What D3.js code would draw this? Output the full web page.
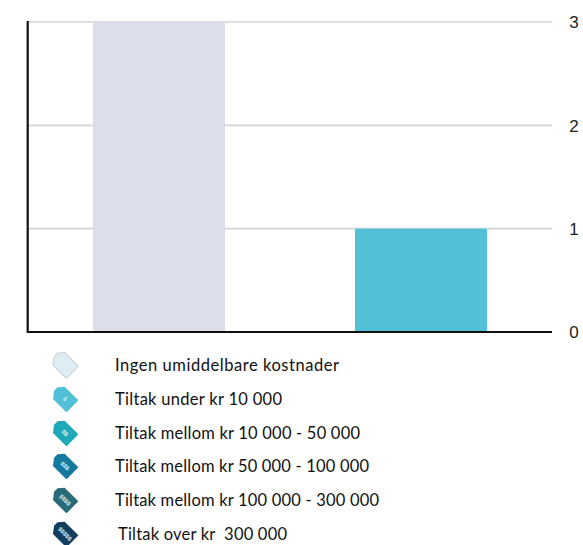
<!DOCTYPE html>
<html><head><meta charset="utf-8">
<script src="https://cdn.jsdelivr.net/npm/d3@7/dist/d3.min.js"></script>
<style>html,body{margin:0;padding:0;background:#fff}svg{display:block}</style>
</head><body><svg id="c" width="583" height="545"></svg>
<script>
const categories = ["Ingen umiddelbare kostnader", "Tiltak under kr 10 000"];
const values = [3, 1];
const barColors = ["#dcdeea", "#52c1d8"];
const yTicks = [0, 1, 2, 3];
const legendLabels = ["Ingen umiddelbare kostnader", "Tiltak under kr 10 000", "Tiltak mellom kr 10 000 - 50 000", "Tiltak mellom kr 50 000 - 100 000", "Tiltak mellom kr 100 000 - 300 000", "Tiltak over kr  300 000"];
const legendColors = ["#deedf4", "#52c1d8", "#1fa9b8", "#15799f", "#2a6b78", "#123f5f"];
const legendSymbols = ["", "$", "$$", "$$$", "$$$$", "$$$$$"];
const legendY = [365, 399, 433, 466, 500, 534];
const legendTextX = [115, 115, 115, 115, 115, 118];
const legendTextLen = [224, 167, 245, 254, 264, 169];

const svg = d3.select("#c");
const x = d3.scaleBand().domain(categories).range([28, 552]).paddingInner(0.496).paddingOuter(0.248);
const y = d3.scaleLinear().domain([0, 3]).range([332, 22]);

svg.append("g").selectAll("line").data(yTicks.filter(d => d > 0)).join("line")
  .attr("x1", 28).attr("x2", 552).attr("y1", d => y(d)).attr("y2", d => y(d))
  .attr("stroke", "#d4d4d4").attr("stroke-width", 1.6);

svg.append("g").selectAll("rect").data(values).join("rect")
  .attr("x", (d, i) => x(categories[i])).attr("width", x.bandwidth())
  .attr("y", d => y(d)).attr("height", d => y(0) - y(d))
  .attr("fill", (d, i) => barColors[i]);

svg.append("line").attr("x1", 27.7).attr("x2", 27.7).attr("y1", 21).attr("y2", 333)
  .attr("stroke", "#111").attr("stroke-width", 2.2);
svg.append("line").attr("x1", 27).attr("x2", 552).attr("y1", y(0)).attr("y2", y(0))
  .attr("stroke", "#111").attr("stroke-width", 2);

svg.append("g").selectAll("text").data(yTicks).join("text")
  .attr("x", 574).attr("y", d => y(d) + 6.3).attr("text-anchor", "middle")
  .attr("font-family", "Liberation Sans, Arial, sans-serif").attr("font-size", 17).attr("fill", "#222")
  .text(d => d);

const tagPath = "M-7.5,10.5 Q-8.5,10.5 -8.5,9 L-8.5,-8.5 L-2,-13.5 L3,-13.5 L8.5,-9 L8.5,9 Q8.5,10.5 7.5,10.5 Z";
const lg = svg.append("g").selectAll("g").data(legendLabels).join("g");
lg.append("path")
  .attr("transform", (d, i) => `translate(65,${legendY[i]}) rotate(-45)`)
  .attr("d", tagPath)
  .attr("fill", (d, i) => legendColors[i])
  .attr("stroke", (d, i) => i === 0 ? "#c8d0d4" : "none")
  .attr("stroke-width", 1);
lg.append("text")
  .attr("transform", (d, i) => `translate(65,${legendY[i]}) rotate(45)`)
  .attr("text-anchor", "middle").attr("y", 2)
  .attr("font-family", "Liberation Sans, Arial, sans-serif").attr("font-size", 6).attr("font-weight", "bold")
  .attr("fill", "#dff3f6")
  .text((d, i) => legendSymbols[i]);
lg.append("text")
  .attr("x", (d, i) => legendTextX[i]).attr("y", (d, i) => legendY[i] + 6)
  .attr("textLength", (d, i) => legendTextLen[i]).attr("lengthAdjust", "spacing")
  .attr("font-family", "Lato, Open Sans, sans-serif").attr("font-size", 16.5).attr("fill", "#111")
  .style("white-space", "pre")
  .text(d => d);
</script></body></html>
